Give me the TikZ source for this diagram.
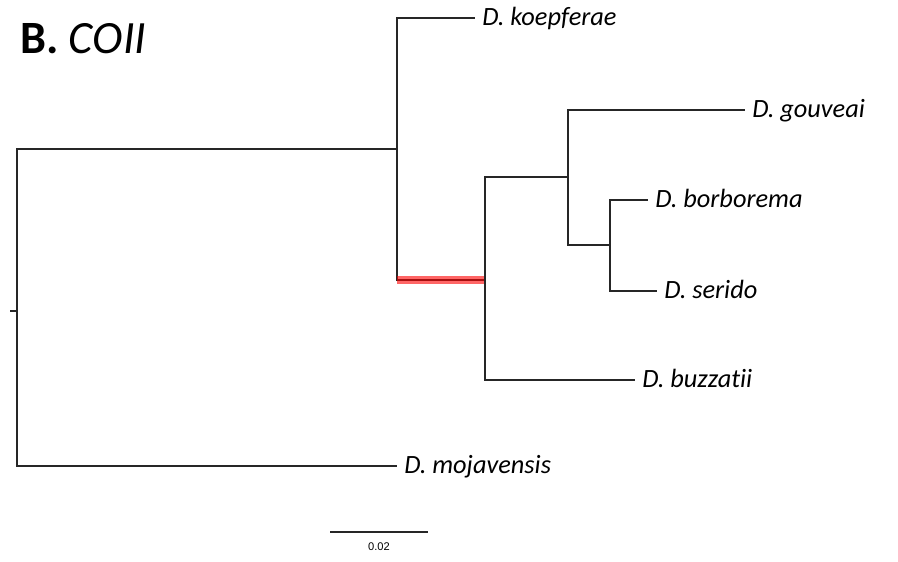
\documentclass[tikz,border=0pt]{standalone}
\usepackage{fontspec}
\setmainfont{Carlito}[Ligatures={NoCommon}]
\newfontfamily\barfont{Liberation Sans}

\begin{document}
\begin{tikzpicture}[x=0.03cm, y=-0.03cm,
  branch/.style={draw=black!85, line width=1pt},
  highlight/.style={draw=red, line width=6.5pt, opacity=0.6},
  taxon/.style={anchor=west, inner xsep=6pt, inner ysep=0pt, text height=13.6pt, text depth=0pt, font=\fontsize{22.5}{26}\selectfont\itshape}]
\useasboundingbox (0,0) rectangle (898,561);
\node[anchor=base west, inner sep=0pt, font=\fontsize{39.5}{46}\selectfont] (title) at (20,53) {\textbf{B.} \textit{COII}};

% internal nodes
\coordinate (stub) at (10,311);
\coordinate (root) at (17,311);
\coordinate (n1) at (397,149);
\coordinate (n2) at (485,280);
\coordinate (n3) at (568,177);
\coordinate (n4) at (610,245);

% tips
\node[taxon] (koe) at (475,18) {D. koepferae};
\node[taxon] (gou) at (745,110) {D. gouveai};
\node[taxon] (bor) at (648,200) {D. borborema};
\node[taxon] (ser) at (657,291) {D. serido};
\node[taxon] (buz) at (635,380) {D. buzzatii};
\node[taxon] (moj) at (397,466) {D. mojavensis};

\draw[branch] (stub) -- (root);
\draw[branch] (root) |- (n1);
\draw[branch] (root) |- (moj.west);
\draw[branch] (n1) |- (koe.west);
\draw[branch] (n1) |- (n2);
\draw[highlight] (n1 |- n2) -- (n2);
\draw[branch] (n2) |- (n3);
\draw[branch] (n2) |- (buz.west);
\draw[branch] (n3) |- (gou.west);
\draw[branch] (n3) |- (n4);
\draw[branch] (n4) |- (bor.west);
\draw[branch] (n4) |- (ser.west);

% scale bar
\coordinate (s0) at (330,532);
\coordinate (s1) at (428,532);
\draw[branch] (s0) -- (s1);
\node[font=\barfont\fontsize{9.5}{11}\selectfont, inner sep=0pt] (scalelbl) at (379,547) {0.02};
\end{tikzpicture}
\end{document}
